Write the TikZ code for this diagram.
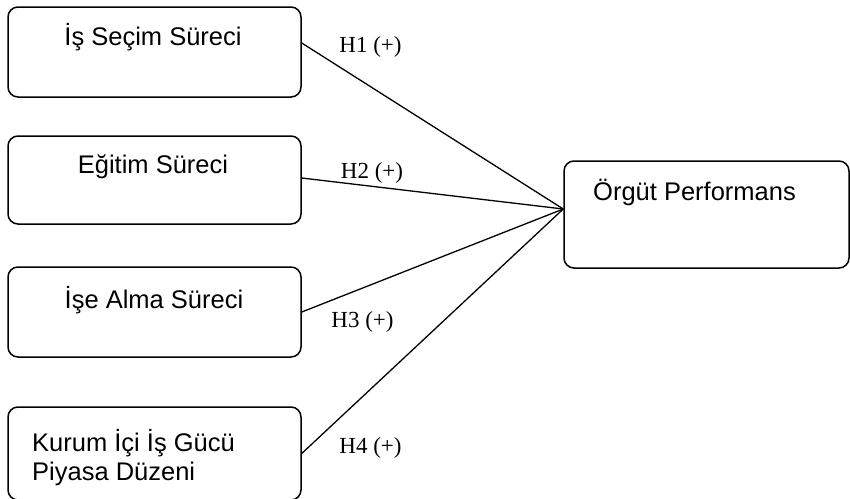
\documentclass[tikz,border=0pt]{standalone}
\usepackage{fontspec}
\setmainfont{Liberation Serif}
\setsansfont{Liberation Sans}

\begin{document}
\begin{tikzpicture}[x=1pt, y=-1pt,
    box/.style = {draw, line width = 1.5pt, rounded corners = 10pt, minimum width = 293pt, inner sep = 0pt},
    boxtext/.style = {font = \sffamily\fontsize{25.5}{29}\selectfont, inner sep = 0pt},
    hyp/.style = {font = \fontsize{23}{27}\selectfont, inner sep = 0pt},
    link/.style = {line width = 1.3pt}]

                    \useasboundingbox (0,0) rectangle (850,498);

                    % left boxes
                    \node[box, minimum height = 90pt] (secim) at (154.5,52) {};
                    \node[box, minimum height = 88pt] (egitim) at (154.5,180) {};
                    \node[box, minimum height = 90pt] (alma) at (154.5,312) {};
                    \node[box, minimum height = 93pt] (piyasa) at (154.5,453.5) {};

                    \node[boxtext] (secimtxt) at (153,37) {İş Seçim Süreci};
                    \node[boxtext] (egitimtxt) at (153,167) {Eğitim Süreci};
                    \node[boxtext] (almatxt) at (154,300) {İşe Alma Süreci};
                    \node[boxtext, anchor = west, align = left] (piyasatxt) at (32,457.5) {Kurum İçi İş Gücü\\Piyasa Düzeni};

                    % right box
                    \node[box, minimum width = 285pt, minimum height = 107pt] (orgut) at (706.5,214.5) {};
                    \node[boxtext] (orguttxt) at (694.5,192) {Örgüt Performans};

                    \coordinate (hub) at ([yshift=5.5pt]orgut.west);

                    % hypotheses
                    \draw[link] ([yshift=9pt]secim.east) -- (hub);
                    \draw[link] ([yshift=2pt]egitim.east) -- (hub);
                    \draw[link] (alma.east) -- (hub);
                    \draw[link] (piyasa.east) -- (hub);

                    \node[hyp] (h1) at (370.5,47) {H1 (+)};
                    \node[hyp] (h2) at (372,173) {H2 (+)};
                    \node[hyp] (h3) at (362.5,322) {H3 (+)};
                    \node[hyp] (h4) at (370.5,448) {H4 (+)};

                \end{tikzpicture}
\end{document}
